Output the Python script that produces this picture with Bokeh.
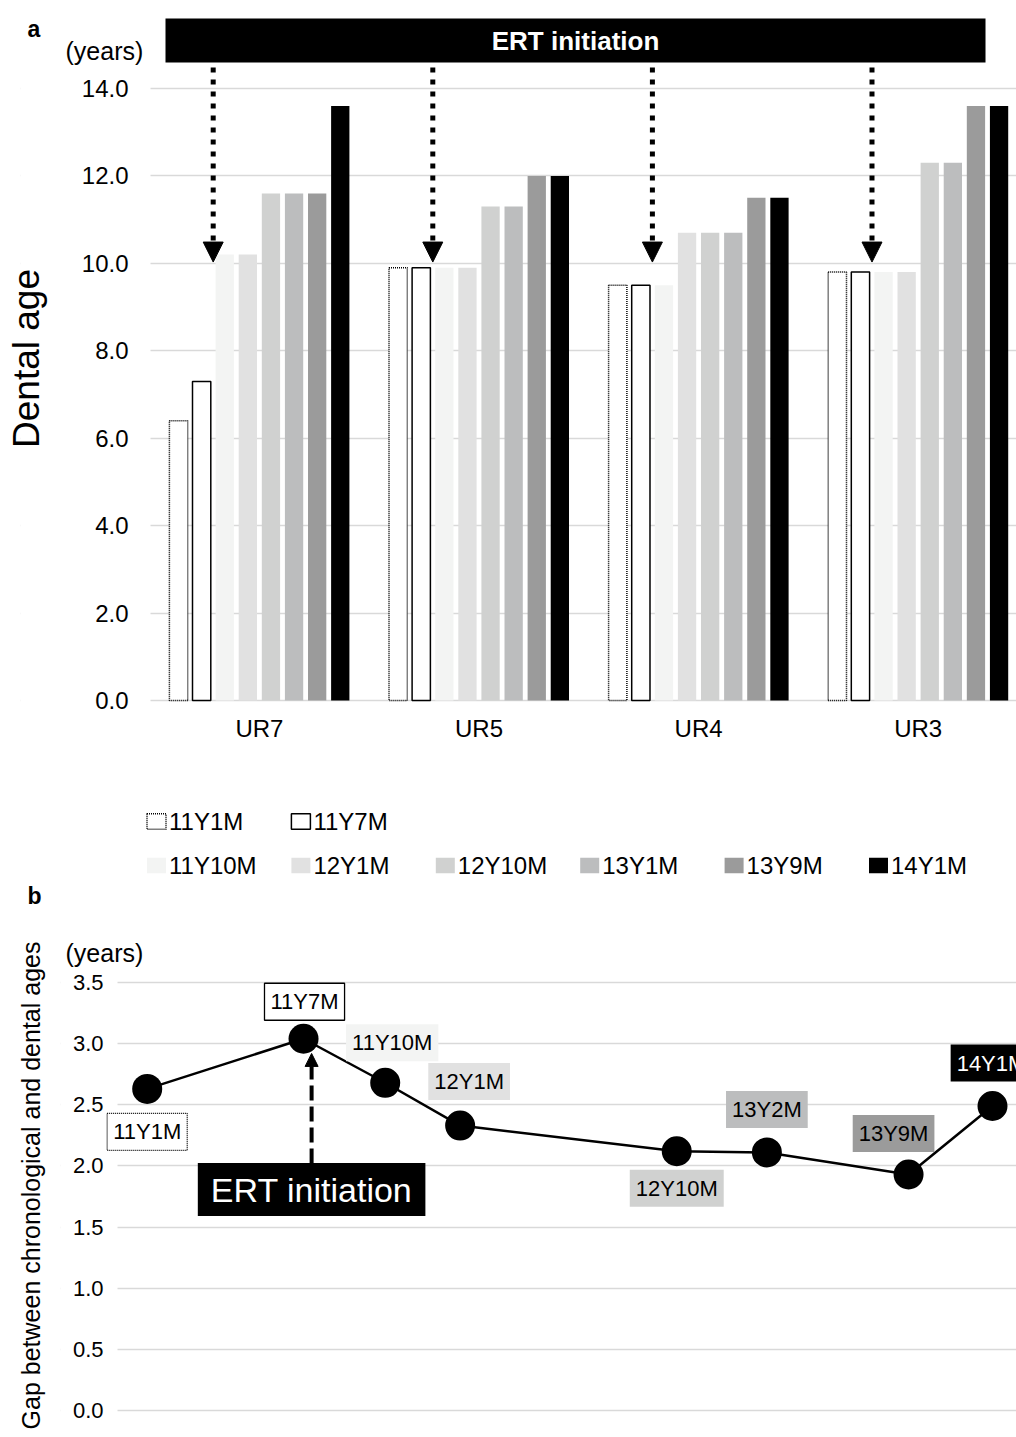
import numpy as np
from bokeh.plotting import figure
from bokeh.models import (ColumnDataSource, FixedTicker, Label, Arrow, NormalHead,
                          Range1d, BoxAnnotation, NumeralTickFormatter)
from bokeh.embed import file_html
from bokeh.resources import INLINE
from bokeh.core.properties import value

FONT = "Liberation Sans"
INK = "#000000"
GRID = "#d9d9d9"

# ---------------- data: panel a (dental age per tooth and visit) ----------------
teeth = ["UR7", "UR5", "UR4", "UR3"]
visits = ["11Y1M", "11Y7M", "11Y10M", "12Y1M", "12Y10M", "13Y1M", "13Y9M", "14Y1M"]
dental_11y1m = [6.4, 9.9, 9.5, 9.8]
dental_11y7m = [7.3, 9.9, 9.5, 9.8]
dental_11y10m = [10.2, 9.9, 9.5, 9.8]
dental_12y1m = [10.2, 9.9, 10.7, 9.8]
dental_12y10m = [11.6, 11.3, 10.7, 12.3]
dental_13y1m = [11.6, 11.3, 10.7, 12.3]
dental_13y9m = [11.6, 12.0, 11.5, 13.6]
dental_14y1m = [13.6, 12.0, 11.5, 13.6]
dental_ticks = [0, 2, 4, 6, 8, 10, 12, 14]

# ---------------- data: panel b (gap between chronological and dental ages) ----------------
gap_labels = ["11Y1M", "11Y7M", "11Y10M", "12Y1M", "12Y10M", "13Y2M", "13Y9M", "14Y1M"]
chrono_age = [11.083, 11.638, 11.928, 12.194, 12.963, 13.283, 13.786, 14.084]
gap_years = [2.63, 3.04, 2.68, 2.33, 2.12, 2.11, 1.93, 2.49]
gap_ticks = [0.0, 0.5, 1.0, 1.5, 2.0, 2.5, 3.0, 3.5]
ert_age = 11 + 8 / 12

dental_series = [dental_11y1m, dental_11y7m, dental_11y10m, dental_12y1m,
                 dental_12y10m, dental_13y1m, dental_13y9m, dental_14y1m]

# ---------------- styles ----------------
bar_fill = ["#ffffff", "#ffffff", "#f3f4f3", "#e1e1e1", "#d0d1d0", "#bcbdbe", "#9b9b9b", "#000000"]
bar_line = ["#000000", "#000000", None, None, None, None, None, None]
bar_dash = ["1 1", "solid", "solid", "solid", "solid", "solid", "solid", "solid"]
label_text_color = ["#000000"] * 7 + ["#ffffff"]
# label placement (screen px, relative to the point; +y is up)
label_dx = [0, 1, 7, 9, 0, 0, -15, -1]
label_dy = [-43, 37, 40, 44, -37, 43, 41, 43]

W = 1016


def style_axis(ax, size):
    ax.axis_line_color = None
    ax.major_tick_line_color = None
    ax.minor_tick_line_color = None
    ax.major_tick_in = 0
    ax.major_tick_out = 0
    ax.minor_tick_in = 0
    ax.minor_tick_out = 0
    ax.major_label_text_font = FONT
    ax.major_label_text_font_size = size
    ax.major_label_text_color = INK
    ax.axis_label_text_font = FONT
    ax.axis_label_text_font_style = "normal"
    ax.axis_label_text_color = INK


def blank_fig(height):
    f = figure(width=W, height=height, output_backend="svg", toolbar_location=None, title=None,
               x_range=Range1d(0, W), y_range=Range1d(height, 0),
               min_border_left=0, min_border_right=0, min_border_top=0, min_border_bottom=0,
               x_axis_location=None, y_axis_location=None, outline_line_color=None,
               background_fill_color="white", border_fill_color="white")
    f.grid.visible = False
    return f


# =============================== panel a ===============================
n_t, n_v = len(teeth), len(visits)
step = 0.1052
bar_w = 0.0833
tooth_x = np.arange(n_t, dtype=float)
offsets = (np.arange(n_v) - (n_v - 1) / 2) * step
grid_start = -0.4959  # where the horizontal grid lines begin

# ERT banner extent (data units)
banner_left, banner_right = -0.4276, 3.3065
banner_bottom, banner_top = 14.595, 15.601

pa = figure(width=W, height=770, output_backend="svg", toolbar_location=None, title=None,
            x_range=Range1d(-1.0879, 3.4476), y_range=Range1d(-0.0458, 15.693),
            min_border_left=20, min_border_right=0, min_border_top=14, min_border_bottom=68,
            outline_line_color=None, background_fill_color="white", border_fill_color="white")
pa.add_layout(BoxAnnotation(right=grid_start, fill_color="white", fill_alpha=1.0,
                            line_color=None, level="underlay"))

for i in range(n_v):
    src = ColumnDataSource(dict(x=tooth_x + offsets[i], top=dental_series[i]))
    pa.vbar(x="x", top="top", bottom=0, width=bar_w, source=src,
            fill_color=bar_fill[i], line_color=bar_line[i], line_width=1.5,
            line_dash=bar_dash[i])

pa.xgrid.visible = False
pa.ygrid.grid_line_color = GRID
pa.ygrid.grid_line_width = 1.3

style_axis(pa.yaxis[0], "24px")
pa.yaxis.ticker = FixedTicker(ticks=dental_ticks)
pa.yaxis.formatter = NumeralTickFormatter(format="0.0")
pa.yaxis.major_label_standoff = -108
pa.yaxis.axis_label = "Dental age"
pa.yaxis.axis_label_text_font_size = "37px"
pa.yaxis.axis_label_standoff = 32

style_axis(pa.xaxis[0], "24px")
pa.xaxis.ticker = FixedTicker(ticks=list(range(n_t)))
pa.xaxis.major_label_overrides = {i: t for i, t in enumerate(teeth)}
pa.xaxis.major_label_standoff = 12

# ERT banner and arrows between the 11Y7M and 11Y10M bars of each tooth
pa.add_layout(BoxAnnotation(left=banner_left, right=banner_right, bottom=banner_bottom,
                            top=banner_top, fill_color=INK, fill_alpha=1.0, line_color=None))
pa.add_layout(Label(x=(banner_left + banner_right) / 2, y=(banner_bottom + banner_top) / 2,
                    text="ERT initiation", text_color="#ffffff", text_font=FONT,
                    text_font_style="bold", text_font_size="26px",
                    text_align="center", text_baseline="middle"))
i0, i1 = visits.index("11Y7M"), visits.index("11Y10M")
ert_off = (offsets[i0] + offsets[i1]) / 2
for j in range(n_t):
    xa = tooth_x[j] + ert_off
    pa.add_layout(Arrow(end=NormalHead(size=20, fill_color=INK, line_color=INK, line_width=1),
                        x_start=xa, y_start=14.48, x_end=xa, y_end=10.03,
                        line_color=INK, line_width=5, line_dash="5 7"))

pa.add_layout(Label(x=7, y=674, x_units="screen", y_units="screen", text="a",
                    text_font=FONT, text_font_style="bold", text_font_size="23px",
                    text_color=INK, text_align="left", text_baseline="alphabetic"))
pa.add_layout(Label(x=45, y=652, x_units="screen", y_units="screen", text="(years)",
                    text_font=FONT, text_font_size="25px",
                    text_color=INK, text_align="left", text_baseline="alphabetic"))

# =============================== legend strip ===============================
MH = 163
pm = blank_fig(MH)
col_step = 144.4
first_left = 146.5
row_y = [51, 95]
icon_w, icon_h = 19, 15.5
for i, name in enumerate(visits):
    row = 0 if i < 2 else 1
    col = i if i < 2 else i - 2
    left = first_left + col * col_step
    yc = row_y[row]
    src = ColumnDataSource(dict(left=[left], right=[left + icon_w],
                                top=[yc - icon_h / 2], bottom=[yc + icon_h / 2],
                                tx=[left + icon_w + 3], ty=[yc], text=[name]))
    pm.quad(left="left", right="right", top="top", bottom="bottom", source=src,
            fill_color=bar_fill[i], line_color=bar_line[i], line_width=1.5,
            line_dash=bar_dash[i])
    pm.text(x="tx", y="ty", text="text", source=src, text_font=value(FONT),
            text_font_size=value("24px"), text_color=INK,
            text_align="left", text_baseline="middle")

pm.text(x=[27], y=[125], text=["b"], text_font=value(FONT), text_font_style="bold",
        text_font_size=value("23px"), text_color=INK, text_align="left",
        text_baseline="alphabetic")

# =============================== panel b ===============================
pb = figure(width=W, height=504, output_backend="svg", toolbar_location=None, title=None,
            x_range=Range1d(10.7752, 14.1692), y_range=Range1d(-0.2208, 3.9007),
            min_border_left=60, min_border_right=0, min_border_top=0, min_border_bottom=0,
            x_axis_location=None, outline_line_color=None,
            background_fill_color="white", border_fill_color="white")
pb.xgrid.visible = False
pb.ygrid.grid_line_color = GRID
pb.ygrid.grid_line_width = 1.3
# keep the grid lines clear of the tick-label column
pb.add_layout(BoxAnnotation(right=10.9776, fill_color="white", fill_alpha=1.0,
                            line_color=None, level="underlay"))

style_axis(pb.yaxis[0], "22px")
pb.yaxis.ticker = FixedTicker(ticks=gap_ticks)
pb.yaxis.formatter = NumeralTickFormatter(format="0.0")
pb.yaxis.major_label_standoff = -43
pb.yaxis.axis_label = "Gap between chronological and dental ages"
pb.yaxis.axis_label_text_font_size = "25px"
pb.yaxis.axis_label_standoff = 25

gsrc = ColumnDataSource(dict(x=chrono_age, y=gap_years, label=gap_labels))
pb.line(x="x", y="y", source=gsrc, line_color=INK, line_width=2.5)
pb.scatter(x="x", y="y", source=gsrc, size=30, fill_color=INK, line_color=None)

for i in range(len(gap_labels)):
    pb.add_layout(Label(x=chrono_age[i], y=gap_years[i], x_offset=label_dx[i],
                        y_offset=label_dy[i], text=gap_labels[i], text_font=FONT,
                        text_font_size="22px", text_color=label_text_color[i],
                        text_align="center", text_baseline="middle", padding=6,
                        background_fill_color=bar_fill[i], background_fill_alpha=1.0,
                        border_line_color=bar_line[i], border_line_width=1.3,
                        border_line_dash=bar_dash[i]))

# ERT initiation annotation
pb.add_layout(Arrow(end=NormalHead(size=13, fill_color=INK, line_color=INK, line_width=1),
                    x_start=ert_age, y_start=2.02, x_end=ert_age, y_end=2.92,
                    line_color=INK, line_width=4, line_dash="15 6"))
pb.add_layout(Label(x=ert_age, y=1.807, text="ERT initiation", text_font=FONT,
                    text_font_size="34px", text_color="#ffffff",
                    text_align="center", text_baseline="middle",
                    padding=dict(left=13, right=13, top=8, bottom=7),
                    background_fill_color=INK, background_fill_alpha=1.0))

pb.add_layout(Label(x=5, y=485, x_units="screen", y_units="screen", text="(years)",
                    text_font=FONT, text_font_size="25px",
                    text_color=INK, text_align="left", text_baseline="alphabetic"))

open("out.html", "w").write(file_html([pa, pm, pb], INLINE))
